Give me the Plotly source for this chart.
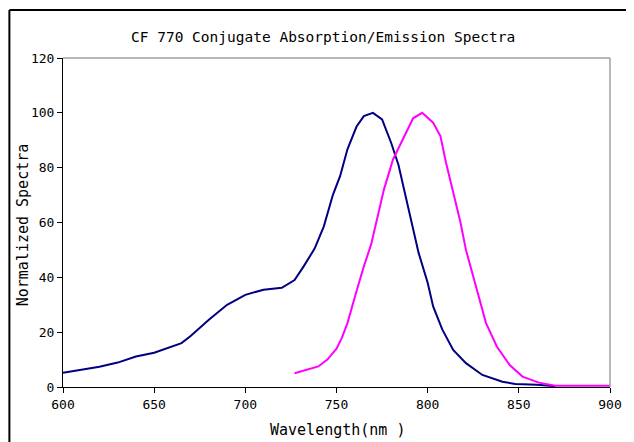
import plotly.graph_objects as go

# Absorption spectrum (blue)
abs_wl = [600, 610, 620, 630, 640, 650, 660, 665, 670, 680, 690, 700, 710, 720,
          727, 732, 738, 743, 748, 752, 756, 761, 765, 770, 775, 780, 784, 787,
          791, 795, 800, 803, 808, 814, 821, 830, 841, 848, 860, 870]
abs_val = [5.2, 6.2, 7.4, 8.9, 11.1, 12.5, 14.7, 16.0, 18.6, 24.5, 30.0, 33.6, 35.5, 36.2,
           39.0, 44.0, 50.5, 58.5, 70.0, 77.0, 86.7, 95.0, 98.8, 100.0, 97.6, 89.0, 81.0, 72.0,
           61.0, 49.0, 38.0, 29.4, 21.0, 13.5, 8.7, 4.4, 1.9, 1.1, 0.8, 0.3]

# Emission spectrum (magenta)
em_wl = [727, 735, 740, 745, 750, 753, 756, 761, 765, 769, 772, 776, 781, 787,
         792, 797, 803, 807, 810, 814, 818, 821, 823, 827, 832, 838, 845, 852,
         861, 870, 880, 900]
em_val = [5.0, 6.5, 7.5, 10.0, 14.0, 18.0, 23.3, 35.0, 44.0, 52.0, 61.0, 72.0, 83.0, 91.5,
          98.0, 100.0, 96.4, 91.5, 82.0, 71.0, 60.0, 50.0, 45.0, 35.5, 23.3, 14.7, 8.0, 3.8,
          1.6, 0.5, 0.5, 0.5]

x_ticks = [600, 650, 700, 750, 800, 850, 900]
y_ticks = [0, 20, 40, 60, 80, 100, 120]

FONT = "DejaVu Sans Mono"

fig = go.Figure()
fig.add_trace(go.Scatter(x=abs_wl, y=abs_val, mode="lines",
                         line=dict(color="#000080", width=2), showlegend=False))
fig.add_trace(go.Scatter(x=em_wl, y=em_val, mode="lines",
                         line=dict(color="#FF00FF", width=2), showlegend=False))

# the page body adds an 8px margin, so the figure is laid out in page pixels minus 8
OFF = 8
W, H = 634 - OFF, 442 - OFF
L, T = 63 - OFF, 58 - OFF
R = W - (614 - OFF)
B = H - (387 - OFF)
pw, ph = W - L - R, H - T - B

def px(xp):
    return (xp - OFF - L) / pw

def py(yp):
    return (H - B - (yp - OFF)) / ph

fig.update_layout(
    width=W, height=H,
    margin=dict(l=L, r=R, t=T, b=B),
    paper_bgcolor="white", plot_bgcolor="white",
    font=dict(family=FONT, size=13, color="black"),
    xaxis=dict(range=[600, 900], tickvals=x_ticks, ticks="outside", ticklen=5,
               tickcolor="black", showline=True, linecolor="black", linewidth=1,
               showgrid=False, zeroline=False,
               tickfont=dict(family=FONT, size=13, color="black")),
    yaxis=dict(range=[0, 120], tickvals=y_ticks, ticks="outside", ticklen=5,
               tickcolor="black", showline=True, linecolor="black", linewidth=1,
               showgrid=False, zeroline=False,
               tickfont=dict(family=FONT, size=13, color="black")),
    shapes=[
        # gray top and right frame of plot area
        dict(type="line", xref="paper", yref="paper", x0=0, x1=1, y0=1, y1=1,
             line=dict(color="#a0a0a0", width=1.5)),
        dict(type="line", xref="paper", yref="paper", x0=1, x1=1, y0=0, y1=1,
             line=dict(color="#a0a0a0", width=1.5)),
        # outer chart border (left and top visible)
        dict(type="line", xref="paper", yref="paper", x0=px(9), x1=px(9), y0=py(10), y1=py(460),
             line=dict(color="black", width=2)),
        dict(type="line", xref="paper", yref="paper", x0=px(9), x1=px(660), y0=py(10), y1=py(10),
             line=dict(color="black", width=2)),
    ],
    annotations=[
        dict(text="CF 770 Conjugate Absorption/Emission Spectra", xref="paper", yref="paper",
             x=px(325), y=py(37), showarrow=False, xanchor="center", yanchor="middle",
             font=dict(family=FONT, size=14.5, color="black")),
        dict(text="Wavelength(nm )", xref="paper", yref="paper",
             x=px(340), y=py(430), showarrow=False, xanchor="center", yanchor="middle",
             font=dict(family=FONT, size=15, color="black")),
        dict(text="Normalized Spectra", xref="paper", yref="paper",
             x=px(23), y=py(225), showarrow=False, xanchor="center", yanchor="middle",
             textangle=-90, font=dict(family=FONT, size=15, color="black")),
    ],
)

fig.write_html("out.html")
